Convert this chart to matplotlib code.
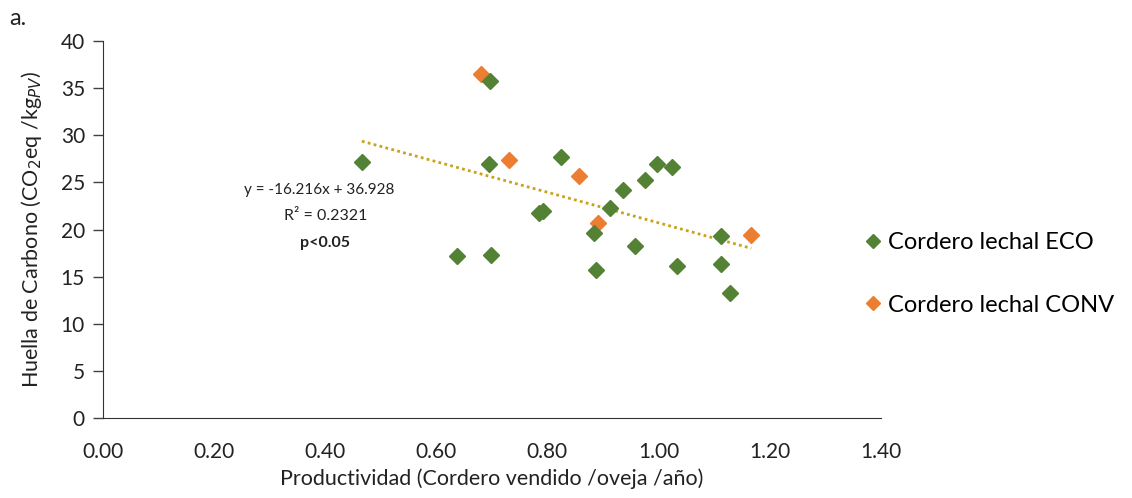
import matplotlib
matplotlib.use('Agg')
import matplotlib.pyplot as plt
import numpy as np

plt.rcParams['font.family'] = ['Lato', 'DejaVu Sans']

# Cordero lechal ECO
eco_x = [0.466, 0.696, 0.694, 0.825, 0.785, 0.792, 0.997, 1.025, 0.976, 0.936,
         0.913, 0.883, 0.957, 0.638, 0.698, 0.888, 1.034, 1.113, 1.113, 1.129]
eco_y = [27.2, 35.8, 26.9, 27.7, 21.8, 22.0, 27.0, 26.6, 25.3, 24.2,
         22.3, 19.6, 18.2, 17.2, 17.3, 15.7, 16.1, 19.3, 16.3, 13.3]

# Cordero lechal CONV
conv_x = [0.681, 0.730, 0.857, 0.891, 1.167]
conv_y = [36.5, 27.4, 25.7, 20.7, 19.4]

slope = -16.216
intercept = 36.928

xticks = [0.0, 0.2, 0.4, 0.6, 0.8, 1.0, 1.2, 1.4]
yticks = [0, 5, 10, 15, 20, 25, 30, 35, 40]

green = '#548235'
orange = '#ED7D31'
trend = '#C9A21B'

fig = plt.figure(figsize=(11.32, 4.98), dpi=100)
ax = fig.add_axes([0.091, 0.1606, 0.687, 0.757])

ax.plot(conv_x, conv_y, linestyle='none', marker='D', markersize=8.5,
        color=orange, label='Cordero lechal CONV', zorder=3)
ax.plot(eco_x, eco_y, linestyle='none', marker='D', markersize=8.5,
        color=green, label='Cordero lechal ECO', zorder=3)

all_x = eco_x + conv_x
tx = np.array([min(all_x), max(all_x)])
ax.plot(tx, slope * tx + intercept, linestyle=(0, (1, 1.2)), linewidth=2,
        color=trend, zorder=2)

ax.set_xlim(0, 1.4)
ax.set_ylim(0, 40)
ax.set_xticks(xticks)
ax.set_xticklabels(['%.2f' % v for v in xticks])
ax.set_yticks(yticks)
ax.tick_params(axis='x', length=0, pad=17, labelsize=15)
ax.tick_params(axis='y', length=7, width=1, direction='out', labelsize=15,
               colors='#404040', pad=6)
for lab in ax.get_xticklabels() + ax.get_yticklabels():
    lab.set_color('#222222')
ax.spines['top'].set_visible(False)
ax.spines['right'].set_visible(False)
ax.spines['left'].set_color('#333333')
ax.spines['bottom'].set_color('#333333')

ax.set_xlabel('Productividad (Cordero vendido /oveja /año)', fontsize=15.5,
              color='#222222', labelpad=5)
ax.set_ylabel('Huella de Carbono (CO$_2$eq /kg$_{PV}$)', fontsize=15.5,
              color='#222222', labelpad=12)

ax.text(0.39, 24.2, 'y = -16.216x + 36.928', fontsize=11, ha='center',
        va='center', color='#222222')
ax.text(0.40, 21.4, 'R² = 0.2321', fontsize=11.5, ha='center', va='center',
        color='#222222')
ax.text(0.40, 18.6, 'p<0.05', fontsize=11.5, ha='center', va='center',
        fontweight='bold', color='#222222')

fig.text(0.008, 0.95, 'a.', fontsize=17, color='#222222')

handles, labels = ax.get_legend_handles_labels()
leg = fig.legend(handles[::-1], labels[::-1], loc='center left',
                 bbox_to_anchor=(0.74, 0.45), frameon=False, fontsize=17,
                 handletextpad=0.05, labelspacing=1.75, handlelength=1.2,
                 markerscale=0.8)

fig.savefig('out.png', dpi=100)
